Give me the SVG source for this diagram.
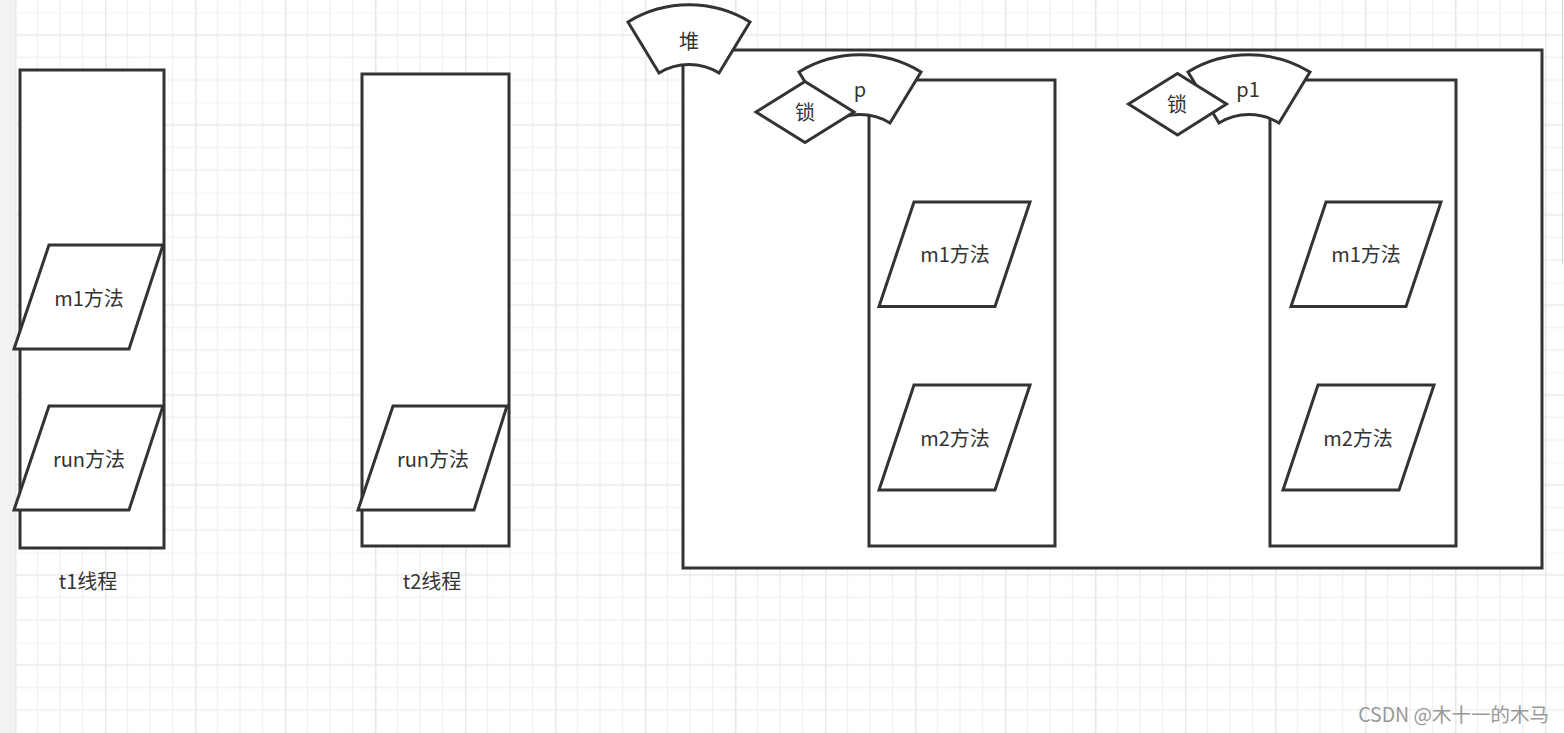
<svg xmlns="http://www.w3.org/2000/svg" width="1564" height="733" viewBox="0 0 1564 733">
<style>
.s{fill:#fff;stroke:#333;stroke-width:3;stroke-linejoin:miter}
.t{font-family:"Microsoft YaHei","Noto Sans CJK SC",sans-serif;font-size:20px;fill:#333;text-anchor:middle;dominant-baseline:central}
.mi{stroke:#f1f1f1;stroke-width:1.3;fill:none}
.ma{stroke:#e8e8e8;stroke-width:1.5;fill:none}
</style>
<defs>
<pattern id="grid" patternUnits="userSpaceOnUse" x="15" y="12.5" width="90" height="90">
<rect width="90" height="90" fill="#fff"/>
<path class="mi" d="M22.5 0V90M45 0V90M67.5 0V90M0 0H90M0 45H90M0 67.5H90"/>
<path class="ma" d="M0.75 0V90M0 22.5H90"/>
</pattern>
<path id="sector" d="M-61 -100 A117 117 0 0 1 61 -100 L30 -49 A57.5 57.5 0 0 0 -30 -49 Z"/>
</defs>
<g id="background">
<rect x="0" y="0" width="1564" height="733" fill="#f2f2f2"/>
<rect x="15" y="0" width="1549" height="733" fill="url(#grid)"/>
<line x1="1562.5" y1="0" x2="1562.5" y2="265" stroke="#d8d8d8" stroke-width="1"/>
</g>
<g id="t1">
<rect class="s" x="20" y="70" width="144" height="478"/>
<text class="t" x="88" y="580">t1线程</text>
</g>
<g id="t1-m1">
<polygon class="s" points="49,245 163,245 129,349 14,349"/>
<text class="t" x="89" y="297">m1方法</text>
</g>
<g id="t1-run">
<polygon class="s" points="49,406 163,406 129,510 14,510"/>
<text class="t" x="89" y="458">run方法</text>
</g>
<g id="t2">
<rect class="s" x="362" y="74" width="147" height="472"/>
<text class="t" x="432" y="580">t2线程</text>
</g>
<g id="t2-run">
<polygon class="s" points="393,406 507,406 474,510 358,510"/>
<text class="t" x="433" y="458">run方法</text>
</g>
<g id="heap">
<rect class="s" x="683" y="50" width="859" height="518"/>
<use href="#sector" class="s" transform="translate(689,122)"/>
<text class="t" x="689" y="40">堆</text>
</g>
<g id="p">
<rect class="s" x="869" y="80" width="186" height="466"/>
<use href="#sector" class="s" transform="translate(860,172)"/>
<text class="t" x="860" y="88">p</text>
</g>
<g id="p-lock">
<polygon class="s" points="756,112 805,81.5 854,112 805,142.5"/>
<text class="t" x="805" y="111">锁</text>
</g>
<g id="p-m1">
<polygon class="s" points="914,202 1030,202 995,306.5 879,306.5"/>
<text class="t" x="955" y="253">m1方法</text>
</g>
<g id="p-m2">
<polygon class="s" points="914,385 1030,385 995,490 879,490"/>
<text class="t" x="955" y="437">m2方法</text>
</g>
<g id="p1">
<rect class="s" x="1270" y="80" width="186" height="466"/>
<use href="#sector" class="s" transform="translate(1249,172)"/>
<text class="t" x="1248" y="88">p1</text>
</g>
<g id="p1-lock">
<polygon class="s" points="1128.5,104 1177.5,73.5 1226.5,104 1177.5,135"/>
<text class="t" x="1177" y="103">锁</text>
</g>
<g id="p1-m1">
<polygon class="s" points="1326,202 1441,202 1406,306.5 1291,306.5"/>
<text class="t" x="1366" y="253">m1方法</text>
</g>
<g id="p1-m2">
<polygon class="s" points="1318,385 1434,385 1399,490 1283,490"/>
<text class="t" x="1358" y="437">m2方法</text>
</g>
<text x="1549" y="722" text-anchor="end" font-family="Microsoft YaHei,'Noto Sans CJK SC',sans-serif" font-size="19.5" fill="#999">CSDN @木十一的木马</text>
</svg>
